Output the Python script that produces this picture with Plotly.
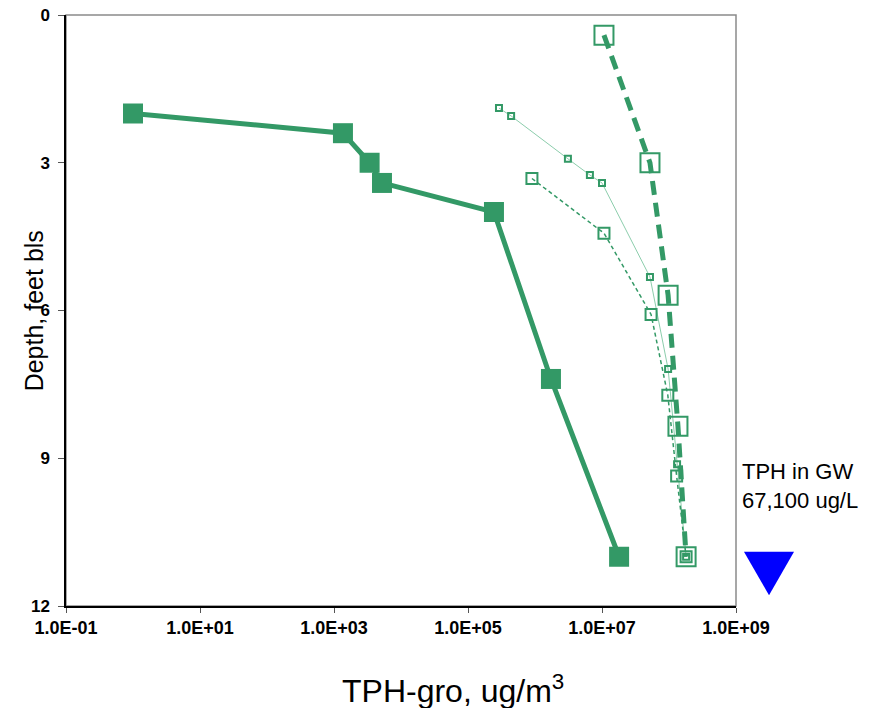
import plotly.graph_objects as go

# ---- data ----
s1_x = [1.0, 1.36e3, 3.4e3, 5.2e3, 2.44e5, 1.73e6, 1.8e7]
s1_y = [2.0, 2.4, 3.0, 3.41, 4.0, 7.39, 11.0]

s2_x = [1.07e7, 5.2e7, 9.7e7, 1.36e8, 1.8e8]
s2_y = [0.41, 3.0, 5.69, 8.35, 11.0]

s3_x = [2.9e5, 4.4e5, 3.1e6, 6.6e6, 1.0e7, 5.2e7, 9.7e7, 1.32e8, 1.8e8]
s3_y = [1.89, 2.05, 2.92, 3.25, 3.41, 5.32, 7.19, 9.12, 11.0]

s4_x = [9.0e5, 1.07e7, 5.4e7, 9.6e7, 1.3e8, 1.8e8]
s4_y = [3.32, 4.43, 6.08, 7.72, 9.36, 11.0]

x_tickvals = [1e-1, 1e1, 1e3, 1e5, 1e7, 1e9]
x_ticktext = ["1.0E-01", "1.0E+01", "1.0E+03", "1.0E+05", "1.0E+07", "1.0E+09"]
y_tickvals = [0, 3, 6, 9, 12]

gw_depth = 10.9
gw_label = "TPH in GW<br>67,100 ug/L"

GREEN = "rgb(51,153,102)"
LIGHT = "rgb(140,205,172)"
FONT = "Liberation Sans, Arial, sans-serif"

fig = go.Figure()

fig.add_trace(go.Scatter(
    x=s3_x, y=s3_y, mode="lines+markers",
    line=dict(color=LIGHT, width=1),
    marker=dict(symbol="square-open", size=6, color=GREEN, line=dict(width=2, color=GREEN)),
    cliponaxis=False, showlegend=False))

fig.add_trace(go.Scatter(
    x=s4_x, y=s4_y, mode="lines+markers",
    line=dict(color=GREEN, width=1.5, dash="4px,3px"),
    marker=dict(symbol="square-open", size=11, color=GREEN, line=dict(width=2, color=GREEN)),
    cliponaxis=False, showlegend=False))

fig.add_trace(go.Scatter(
    x=s2_x, y=s2_y, mode="lines+markers",
    line=dict(color=GREEN, width=5, dash="14px,8px"),
    marker=dict(symbol="square-open", size=19, color=GREEN, line=dict(width=2, color=GREEN)),
    cliponaxis=False, showlegend=False))

fig.add_trace(go.Scatter(
    x=s1_x, y=s1_y, mode="lines+markers",
    line=dict(color=GREEN, width=5),
    marker=dict(symbol="square", size=20, color=GREEN),
    cliponaxis=False, showlegend=False))

fig.update_layout(
    template="none",
    width=878, height=700,
    margin=dict(l=58, r=150, t=7, b=102, autoexpand=False),
    paper_bgcolor="white", plot_bgcolor="white",
    font=dict(family=FONT, color="black"),
    xaxis=dict(
        type="log", range=[-1, 9], automargin=False,
        tickvals=x_tickvals, ticktext=x_ticktext,
        tickfont=dict(size=18, family=FONT, color="black", weight="bold"),
        ticks="outside", ticklen=5, tickcolor="#555",
        ticklabeloverflow="allow",
        showgrid=False, zeroline=False,
        showline=True, linecolor="black", linewidth=1.5,
    ),
    yaxis=dict(
        range=[12, 0], automargin=False,
        tickvals=y_tickvals,
        tickfont=dict(size=17, family=FONT, color="black", weight="bold"),
        ticks="outside", ticklen=6, tickcolor="#555",
        ticklabeloverflow="allow", ticklabelstandoff=5,
        showgrid=False, zeroline=False,
        showline=True, linecolor="black", linewidth=1.5,
    ),
    shapes=[
        dict(type="rect", xref="paper", yref="paper", x0=0, x1=1, y0=0, y1=1,
             line=dict(color="#8a8a8a", width=1.5), layer="below"),
        dict(type="path", xref="paper", yref="y",
             path=f"M 1.0119 {gw_depth} L 1.0866 {gw_depth} L 1.0493 {gw_depth + 0.88} Z",
             fillcolor="blue", line=dict(color="blue", width=0)),
    ],
    annotations=[
        dict(text="Depth, feet bls", xref="paper", yref="paper", x=-0.048, y=0.5,
             textangle=-90, showarrow=False, font=dict(size=25, family=FONT, color="black"),
             xanchor="center", yanchor="middle"),
        dict(text="TPH-gro, ug/m<sup>3</sup>", xref="paper", yref="paper", x=0.578, y=-0.14,
             showarrow=False, font=dict(size=32, family=FONT, color="black"),
             xanchor="center", yanchor="middle"),
        dict(text=gw_label, xref="paper", yref="y", x=1.006, y=9.56,
             showarrow=False, align="left", xanchor="left", yanchor="middle",
             font=dict(size=22, family=FONT, color="black")),
    ],
)

fig.write_html("out.html")
